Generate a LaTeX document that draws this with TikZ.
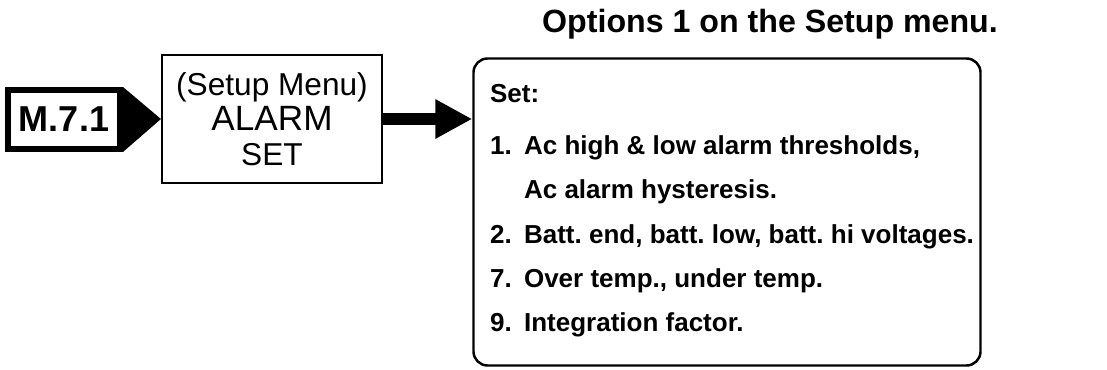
\documentclass[tikz,border=0pt]{standalone}
\usepackage{fontspec}
\setmainfont{Liberation Sans}
\usetikzlibrary{arrows.meta}
\frenchspacing

\begin{document}
\begin{tikzpicture}[line width=1.2pt,>={Triangle[length=7.4mm,width=7.4mm]}]
  \useasboundingbox (0,0) rectangle (22.14,-7.4);
  % titulo
  \node[anchor=base,font=\bfseries\fontsize{18.3}{20}\selectfont] (title) at (15.4,-0.66){Options 1 on the Setup menu.};
  % menu
  \node[draw,line width=3.4pt,minimum width=2.24cm,minimum height=1.18cm,inner sep=0pt,font=\bfseries\fontsize{20.5}{24}\selectfont] (m71) at (1.28,-2.39){M.7.1};
  \node[draw,minimum width=4.4cm,minimum height=2.56cm,align=center,font=\fontsize{18}{19.9}\selectfont] (alarm) at (5.44,-2.38){(Setup Menu)\\\fontsize{20}{19.9}\selectfont ALARM\\SET};
  \fill (m71.north east) -- (alarm.west) -- (m71.south east) -- cycle;
  % opciones
  \node[draw,rounded corners=0.28cm,line width=1.4pt,minimum width=10.14cm,minimum height=6.14cm] (opts) at (14.54,-4.24){};
  \draw[->,line width=6.8pt] (alarm.east) -- (alarm.east -| opts.west);
  \node[anchor=north west,inner sep=0pt,align=left,font=\bfseries\fontsize{14.8}{25.1}\selectfont] (setlist) at (9.78,-1.66){Set:\\[0.17cm]
    \makebox[0.68cm][l]{1.}Ac high \& low alarm thresholds,\\
    \hspace*{0.68cm}Ac alarm hysteresis.\\
    \makebox[0.68cm][l]{2.}Batt. end, batt. low, batt. hi voltages.\\
    \makebox[0.68cm][l]{7.}Over temp., under temp.\\
    \makebox[0.68cm][l]{9.}Integration factor.};
\end{tikzpicture}
\end{document}
